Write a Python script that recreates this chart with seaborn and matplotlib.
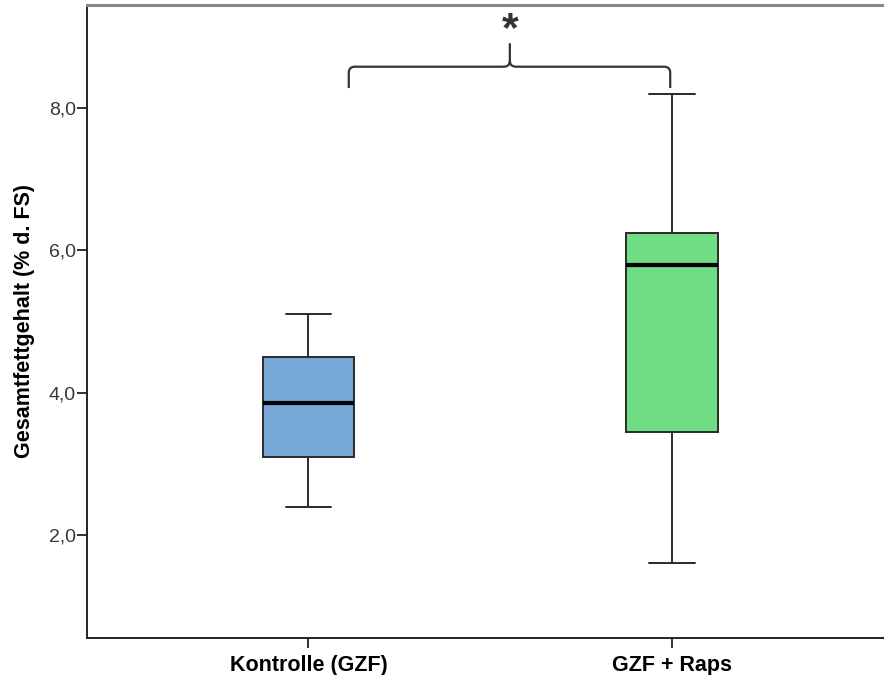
import numpy as np
import pandas as pd
import matplotlib
matplotlib.use("Agg")
import matplotlib.pyplot as plt
from matplotlib.path import Path
from matplotlib.patches import PathPatch
import seaborn as sns

# ---- data ----
groups = ["Kontrolle (GZF)", "GZF + Raps"]
kontrolle_values = [2.40, 3.10, 3.85, 4.50, 5.10]   # min, Q1, median, Q3, max
raps_values = [1.60, 3.45, 5.80, 6.25, 8.20]
box_colors = ["#76A7D6", "#70DD84"]
y_ticks = [2.0, 4.0, 6.0, 8.0]
y_tick_labels = ["2,0", "4,0", "6,0", "8,0"]
y_label = "Gesamtfettgehalt (% d. FS)"
sig_marker = "*"

df = pd.DataFrame({
    "Gruppe": [groups[0]] * len(kontrolle_values) + [groups[1]] * len(raps_values),
    "Wert": kontrolle_values + raps_values,
})

sns.set_theme(style="white")
plt.rcParams["font.family"] = ["Liberation Sans", "DejaVu Sans"]

fig = plt.figure(figsize=(8.84, 6.75), dpi=100)
ax = fig.add_axes([87 / 884, 37 / 675, 797 / 884, 633 / 675])

sns.boxplot(
    data=df, x="Gruppe", y="Wert", order=groups, hue="Gruppe", hue_order=groups,
    palette=box_colors, legend=False, width=0.252, whis=(0, 100),
    linewidth=1.4, linecolor="#2a2a2a", saturation=1, ax=ax,
    medianprops=dict(color="black", linewidth=3),
    boxprops=dict(alpha=1),
)

ax.set_xlim(-0.609, 1.583)
ax.set_ylim(0.553, 9.447)

ax.set_yticks(y_ticks)
ax.set_yticklabels(y_tick_labels, fontsize=14, color="#383838")
ax.set_xticks(range(len(groups)))
ax.set_xticklabels(groups, fontsize=15.5, fontweight="bold", color="black")
ax.tick_params(axis="both", which="both", length=7, width=1.3, color="#222222",
               direction="out", left=True, bottom=True)
ax.tick_params(axis="y", pad=1)
ax.tick_params(axis="x", pad=5)

ax.set_xlabel("")
ax.set_ylabel(y_label, fontsize=15.5, fontweight="bold", color="black", labelpad=10)

for side in ["left", "bottom"]:
    ax.spines[side].set_color("#222222")
    ax.spines[side].set_linewidth(1.4)
ax.spines["top"].set_color("#888888")
ax.spines["top"].set_linewidth(2.2)
ax.spines["right"].set_visible(False)
ax.grid(False)

# ---- significance brace ----
xl, xr, xm = 0.111, 0.995, 0.554
yb, yh, yp = 8.28, 8.58, 8.91
dx, dy = 0.017, 0.085
verts = [
    (xl, yb), (xl, yh - dy), (xl, yh), (xl + dx, yh),
    (xm - dx, yh), (xm, yh), (xm, yh + dy),
    (xm, yp),
    (xm, yh + dy), (xm, yh), (xm + dx, yh),
    (xr - dx, yh), (xr, yh), (xr, yh - dy),
    (xr, yb),
]
codes = [
    Path.MOVETO, Path.LINETO, Path.CURVE3, Path.CURVE3,
    Path.LINETO, Path.CURVE3, Path.CURVE3,
    Path.LINETO,
    Path.MOVETO, Path.CURVE3, Path.CURVE3,
    Path.LINETO, Path.CURVE3, Path.CURVE3,
    Path.LINETO,
]
ax.add_patch(PathPatch(Path(verts, codes), facecolor="none", edgecolor="#333333",
                       linewidth=1.6, clip_on=False))
ax.text(xm, 9.09, sig_marker, ha="center", va="center", fontsize=31,
        fontweight="bold", color="#333333")

fig.savefig("out.png", dpi=100)
